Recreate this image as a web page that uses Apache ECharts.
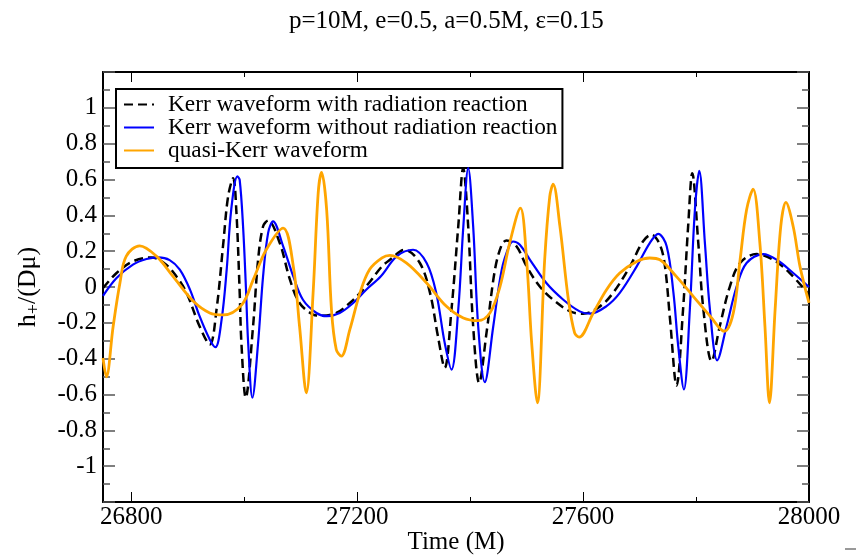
<!DOCTYPE html>
<html>
<head>
<meta charset="utf-8">
<script src="https://cdn.jsdelivr.net/npm/echarts@6/dist/echarts.min.js"></script>
<style>html,body{margin:0;padding:0;background:#fff;}#c{width:856px;height:556px;}</style>
</head>
<body>
<div id="c"></div>
<script>
// Data: [time (M), h+/(Dμ)]
var kerrRR = [[26750,-0.006],[26774,0.078],[26803,0.143],[26836,0.165],[26862,0.124],[26880,0.059],[26898,-0.033],[26921,-0.219],[26939,-0.321],[26951,-0.126],[26963,0.245],[26971.5,0.505],[26980.4,0.607],[26986,0.43],[26992,-0.03],[26995,-0.31],[27002.7,-0.618],[27015.7,-0.219],[27024.6,0.152],[27033.4,0.338],[27042.3,0.371],[27063,0.245],[27081,0.041],[27098,-0.089],[27122,-0.154],[27134,-0.160],[27163,-0.145],[27187,-0.089],[27216,0.004],[27244,0.115],[27258,0.152],[27284,0.208],[27311,0.134],[27329,-0.033],[27343,-0.275],[27355,-0.451],[27367,-0.126],[27379,0.338],[27387.7,0.663],[27396.6,0.338],[27405.4,-0.219],[27416,-0.535],[27429,-0.256],[27444,0.097],[27456,0.236],[27464.5,0.26],[27482,0.227],[27500,0.115],[27523,0.004],[27547,-0.071],[27577,-0.136],[27600,-0.149],[27630,-0.108],[27653,-0.033],[27683,0.115],[27706,0.254],[27721,0.292],[27736,0.236],[27745,0.115],[27754,-0.182],[27765.5,-0.55],[27777,-0.126],[27786,0.338],[27793.3,0.635],[27804,0.245],[27813,-0.126],[27827.5,-0.414],[27842,-0.219],[27860,0.004],[27878,0.134],[27907,0.184],[27937,0.152],[27966,0.078],[28000,-0.043]];
var kerrNoRR = [[26750,-0.05],[26774,0.05],[26803,0.125],[26827,0.156],[26848,0.165],[26868,0.15],[26886,0.097],[26904,-0.015],[26921,-0.163],[26939,-0.293],[26949,-0.336],[26960,-0.182],[26969,0.097],[26977,0.431],[26988,0.617],[26992,0.598],[26998,0.338],[27003,0.0],[27007,-0.312],[27014.5,-0.618],[27024.6,-0.312],[27033.4,0.059],[27042.3,0.301],[27051,0.366],[27069,0.227],[27087,0.059],[27104,-0.071],[27128,-0.145],[27146,-0.163],[27169,-0.145],[27193,-0.089],[27216,-0.015],[27242,0.06],[27270,0.171],[27299,0.208],[27323,0.134],[27340,-0.033],[27355,-0.312],[27367,-0.461],[27379,-0.126],[27388,0.338],[27396.6,0.663],[27405.4,0.338],[27414.3,-0.219],[27426,-0.531],[27441,-0.219],[27456,0.097],[27470,0.236],[27476,0.254],[27488,0.236],[27506,0.152],[27535,0.022],[27565,-0.071],[27594,-0.136],[27612,-0.149],[27641,-0.108],[27665,-0.033],[27695,0.115],[27718,0.245],[27733,0.297],[27748,0.227],[27760,-0.033],[27768.5,-0.331],[27778.5,-0.572],[27789,-0.126],[27798,0.431],[27805.7,0.648],[27815.7,0.245],[27824.6,-0.126],[27837.5,-0.409],[27854,-0.219],[27872,0.004],[27889.5,0.134],[27919,0.184],[27943,0.152],[27972,0.078],[28000,0.0]];
var quasiKerr = [[26750,-0.396],[26756,-0.501],[26768,-0.219],[26780,0.022],[26791,0.171],[26815,0.230],[26845,0.171],[26874,0.059],[26910,-0.080],[26939,-0.145],[26963,-0.156],[26996,-0.098],[27016,0.041],[27039,0.208],[27069,0.329],[27087,0.115],[27098,-0.219],[27110,-0.591],[27122,-0.033],[27131,0.524],[27137,0.639],[27146,0.431],[27154.5,-0.126],[27163,-0.349],[27172,-0.386],[27187,-0.238],[27205,-0.033],[27222,0.097],[27244,0.162],[27258,0.176],[27287,0.134],[27323,0.022],[27358,-0.108],[27388,-0.173],[27414,-0.188],[27435,-0.145],[27453,0.004],[27470,0.245],[27489,0.44],[27500,0.152],[27509,-0.312],[27519,-0.646],[27532,0.152],[27541,0.505],[27547,0.574],[27559,0.338],[27574,-0.071],[27585,-0.256],[27593,-0.280],[27618,-0.145],[27641.5,-0.015],[27665,0.078],[27695,0.143],[27718,0.162],[27736,0.152],[27765,0.059],[27795,-0.052],[27825,-0.163],[27850,-0.247],[27866,-0.145],[27878,0.152],[27889.5,0.431],[27901,0.546],[27913,0.245],[27922,-0.219],[27930,-0.646],[27940,-0.126],[27950,0.338],[27959,0.472],[27972,0.338],[27984,0.115],[28000,-0.089]];

var xMajorTicks = [26800, 27200, 27600, 28000];
var xMinorTicks = [27000, 27400, 27800];
var seriesNames = ['Kerr waveform with radiation reaction', 'Kerr waveform without radiation reaction', 'quasi-Kerr waveform'];
var titleText = 'p=10M, e=0.5, a=0.5M, \u03b5=0.15';

var FONT = 'Liberation Serif';
var chart = echarts.init(document.getElementById('c'), null, {renderer: 'canvas'});

function xAx(pos, ticks, len, showLabel, showLine) {
  return {
    type: 'value', position: pos, min: 26750, max: 28000,
    axisLine: {show: showLine, onZero: false, lineStyle: {color: '#000', width: 2}},
    axisTick: {show: true, inside: true, length: len, customValues: ticks, lineStyle: {color: '#000', width: 1}},
    axisLabel: {show: showLabel, customValues: ticks, margin: 3, color: '#000', fontFamily: FONT, fontSize: 25,
      formatter: function (v) { return String(Math.round(v)); }},
    splitLine: {show: false}
  };
}
function yAx(pos, showLabel) {
  return {
    type: 'value', position: pos, min: -1.2, max: 1.2, interval: 0.2,
    axisLine: {show: true, onZero: false, lineStyle: {color: '#000', width: 2}},
    axisTick: {show: true, inside: true, length: 12, lineStyle: {color: '#555', width: 1.5}},
    minorTick: {show: true, splitNumber: 2, length: 7, lineStyle: {color: '#555', width: 1.5}},
    axisLabel: {show: showLabel, margin: 6, color: '#000', fontFamily: FONT, fontSize: 25,
      formatter: function (v) { if (Math.abs(v) > 1.1) return ''; var r = Math.round(v * 10) / 10; return String(r === 0 ? 0 : r); }},
    splitLine: {show: false}
  };
}

var xAxes = [xAx('bottom', xMajorTicks, 10, true, true), xAx('bottom', xMinorTicks, 5, false, false),
             xAx('top', xMajorTicks, 10, false, true), xAx('top', xMinorTicks, 5, false, false)];
xAxes[0].name = 'Time (M)';
xAxes[0].nameLocation = 'middle';
xAxes[0].nameGap = 28;
xAxes[0].nameMoveOverlap = false;
xAxes[0].nameTextStyle = {color: '#000', fontFamily: FONT, fontSize: 25};

var yAxes = [yAx('left', true), yAx('right', false)];
yAxes[0].name = 'h{sub|+}/(D\u03bc)';
yAxes[0].nameLocation = 'middle';
yAxes[0].nameGap = 60;
yAxes[0].nameMoveOverlap = false;
yAxes[0].nameRotate = 90;
yAxes[0].nameTextStyle = {color: '#000', fontFamily: FONT, fontSize: 26,
  rich: {sub: {fontFamily: FONT, fontSize: 18, color: '#000', verticalAlign: 'bottom', padding: [12, 0, 0, 0]}}};

chart.setOption({
  animation: false,
  backgroundColor: '#fff',
  title: {text: titleText, left: 284, top: 4, textStyle: {fontFamily: FONT, fontWeight: 'normal', fontSize: 25, color: '#000'}},
  grid: {left: 103, right: 47, top: 72, bottom: 54, containLabel: false, outerBoundsMode: 'none'},
  legend: {
    orient: 'vertical', left: 116, top: 89,
    data: seriesNames,
    itemWidth: 30, itemHeight: 12, itemGap: 0,
    padding: [4, 5, 6, 7],
    itemStyle: {opacity: 0},
    borderColor: '#000', borderWidth: 2, backgroundColor: '#fff',
    textStyle: {fontFamily: FONT, fontSize: 23.3, color: '#000', padding: [0, 0, 0, 9], lineHeight: 20}
  },
  xAxis: xAxes,
  yAxis: yAxes,
  series: [
    {name: seriesNames[0], type: 'line', data: kerrRR, showSymbol: false, symbol: 'none', smooth: 0.35, z: 3,
      lineStyle: {color: '#000', width: 2.5, type: [9, 5]}, itemStyle: {color: '#000'}},
    {name: seriesNames[1], type: 'line', data: kerrNoRR, showSymbol: false, symbol: 'none', smooth: 0.35, z: 4,
      lineStyle: {color: '#0000ff', width: 2.2}, itemStyle: {color: '#0000ff'}},
    {name: seriesNames[2], type: 'line', data: quasiKerr, showSymbol: false, symbol: 'none', smooth: 0.35, z: 5,
      lineStyle: {color: '#ffa500', width: 2.8}, itemStyle: {color: '#ffa500'}}
  ],
  graphic: [{type: 'rect', shape: {x: 845, y: 548, width: 11, height: 2}, style: {fill: '#999'}}]
});
</script>
</body>
</html>
